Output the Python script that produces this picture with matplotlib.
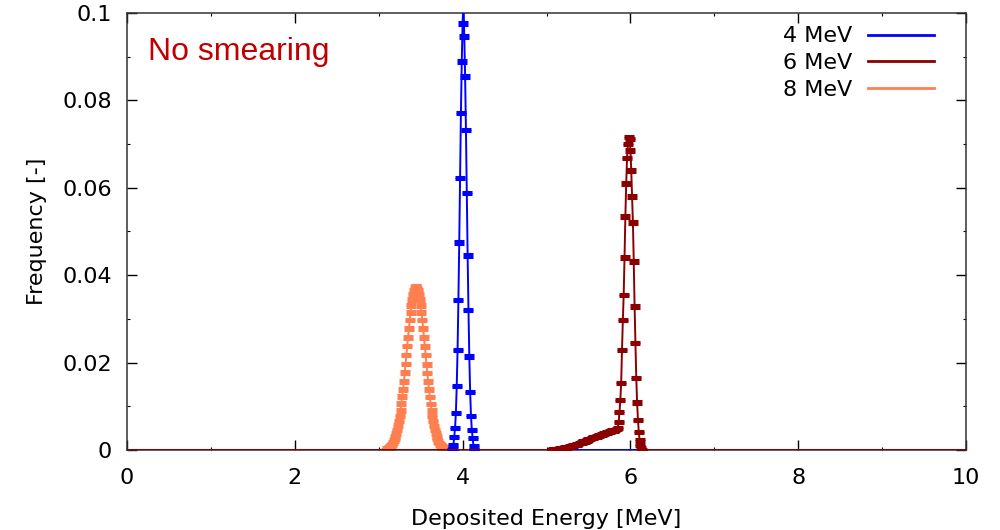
import numpy as np
import matplotlib
matplotlib.use("Agg")
import matplotlib.pyplot as plt
from matplotlib.lines import Line2D

# energy range of the histograms [MeV]
e_min, e_max = 0.0, 10.0

# 4 MeV: bins 3.87 .. 4.14 MeV (0.01 MeV wide)
e4 = np.round(np.arange(3.87, 4.145, 0.01), 2)
f4 = [0.0, 0.0002, 0.0011, 0.0030, 0.0050, 0.0085, 0.0146, 0.0229, 0.0343, 0.0475,
      0.0622, 0.0771, 0.0889, 0.0976, 0.1030, 0.0946, 0.0854, 0.0732, 0.0588,
      0.0445, 0.0320, 0.0214, 0.0133, 0.0078, 0.0046, 0.0027, 0.0009, 0.0]

# 6 MeV: low tail (0.02 MeV steps) then the peak (0.01 MeV steps)
e6 = np.round(np.concatenate([np.arange(5.06, 5.845, 0.02),
                              np.arange(5.85, 6.145, 0.01)]), 2)
f6 = [0.0000, 0.0001, 0.0001, 0.0002, 0.0002, 0.0003, 0.0003, 0.0004, 0.0005, 0.0006,
      0.0007, 0.0008, 0.0009, 0.0010, 0.0011, 0.0013, 0.0014, 0.0016, 0.0017, 0.0019,
      0.0020, 0.0022, 0.0024, 0.0025, 0.0027, 0.0028, 0.0030, 0.0031, 0.0033, 0.0034,
      0.0036, 0.0037, 0.0039, 0.0040, 0.0041, 0.0042, 0.0044, 0.0045, 0.0046, 0.0048,
      0.0050, 0.0064, 0.0087, 0.0114, 0.0153, 0.0229, 0.0297, 0.0355, 0.0440, 0.0534,
      0.0610, 0.0668, 0.0700, 0.0716, 0.0712, 0.0686, 0.0640, 0.0580, 0.0520, 0.0431,
      0.0328, 0.0245, 0.0165, 0.0108, 0.0069, 0.0041, 0.0023, 0.0011, 0.0003, 0.0]

# 8 MeV: bins 3.09 .. 3.80 MeV
e8 = np.round(np.arange(3.09, 3.805, 0.01), 2)
f8 = [0.0,
      0.0003, 0.0004, 0.0005, 0.0006, 0.0008, 0.0010, 0.0013, 0.0017, 0.0021, 0.0026,
      0.0031, 0.0038, 0.0046, 0.0056, 0.0066, 0.0078, 0.0091, 0.0106, 0.0122, 0.0139,
      0.0157, 0.0177, 0.0197, 0.0217, 0.0238, 0.0258, 0.0278, 0.0297, 0.0315, 0.0331,
      0.0345, 0.0357, 0.0365, 0.0372, 0.0375,
      0.0374, 0.0371, 0.0366, 0.0356, 0.0344, 0.0330, 0.0314, 0.0297, 0.0278, 0.0258,
      0.0237, 0.0217, 0.0196, 0.0176, 0.0157, 0.0139, 0.0121, 0.0105, 0.0091, 0.0078,
      0.0066, 0.0055, 0.0046, 0.0038, 0.0031, 0.0025, 0.0020, 0.0016, 0.0013, 0.0010,
      0.0008, 0.0006, 0.0005, 0.0004, 0.0003,
      0.0]

err = 0.0003  # statistical error per bin

series = [("4 MeV", e4, f4, "#0000ff", 3),
          ("6 MeV", e6, f6, "#8b0000", 4),
          ("8 MeV", e8, f8, "#ff7f50", 2)]

x_ticks = [0, 2, 4, 6, 8, 10]
y_ticks = [0, 0.02, 0.04, 0.06, 0.08, 0.1]
y_tick_labels = ["0", "0.02", "0.04", "0.06", "0.08", "0.1"]

plt.rcParams["font.family"] = "DejaVu Sans"
fig = plt.figure(figsize=(10, 5.3), dpi=100)
ax = fig.add_axes([0.127, 0.151, 0.839, 0.8245])

for label, e, f, c, z in series:
    x = np.concatenate([[e_min], e, [e_max]])
    y = np.concatenate([[0.0], f, [0.0]])
    ax.plot(x, y, color=c, lw=1.4, zorder=z)
    ax.errorbar(e, f, yerr=err, fmt="none", ecolor=c, elinewidth=1.4,
                capsize=3.8, capthick=2.2, zorder=z)

ax.set_xlim(e_min, e_max)
ax.set_ylim(0, 0.1)
ax.set_xticks(x_ticks)
ax.set_xticklabels([str(t) for t in x_ticks])
ax.set_yticks(y_ticks)
ax.set_yticklabels(y_tick_labels)
ax.set_xticks([1, 3, 5, 7, 9], minor=True)
ax.set_yticks([0.01, 0.03, 0.05, 0.07, 0.09], minor=True)
ax.tick_params(which="both", direction="in", top=True, right=True, labelsize=16)
ax.tick_params(which="major", length=7, width=1.0)
ax.tick_params(which="minor", length=2.5, width=0.8)
ax.tick_params(axis="x", pad=13)
ax.tick_params(axis="y", pad=11)
for s in ax.spines.values():
    s.set_linewidth(1.1)
    s.set_color("#333333")

ax.set_xlabel("Deposited Energy [MeV]", fontsize=16, labelpad=15)
ax.set_ylabel("Frequency [-]", fontsize=16, labelpad=11)

handles = [Line2D([], [], color=c, lw=2) for _, _, _, c, _ in series]
ax.legend(handles, [s[0] for s in series], loc="upper right",
          bbox_to_anchor=(0.978, 1.0), frameon=False, markerfirst=False,
          fontsize=16, handlelength=3.0, handletextpad=0.7, labelspacing=0.3,
          borderaxespad=0.2)

fig.text(0.148, 0.887, "No smearing", color="#c00000", fontsize=23,
         family="Liberation Sans", va="baseline")

fig.savefig("out.png", dpi=100)
